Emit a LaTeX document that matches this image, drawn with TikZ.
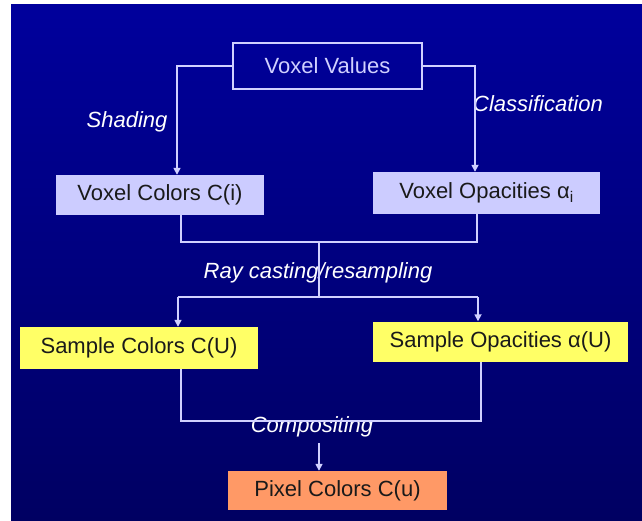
\documentclass[tikz,border=0pt]{standalone}
\usepackage{fontspec}
\setmainfont{Liberation Sans}
\usetikzlibrary{arrows.meta}

\definecolor{bgtop}{HTML}{00009C}
\definecolor{bgbot}{HTML}{000062}
\definecolor{wire}{HTML}{D0D0FF}
\definecolor{lav}{HTML}{CCCCFF}
\definecolor{yel}{HTML}{FFFF66}
\definecolor{org}{HTML}{FF9966}
\definecolor{ink}{HTML}{1A1A1A}

\tikzset{
  box/.style={rectangle, inner sep=0pt, font=\fontsize{22}{24}\selectfont, text=ink},
  topbox/.style={box, draw=wire, line width=1.6pt, text=wire},
  lbl/.style={font=\fontsize{22}{24}\selectfont\itshape, text=white},
  wireline/.style={draw=wire, line width=1.6pt},
  arr/.style={wireline, -{Triangle[length=7pt,width=7pt]}}
}

\begin{document}
\begin{tikzpicture}[x=1pt,y=-1pt]
  \useasboundingbox (0,0) rectangle (642,521);
  \fill[white] (0,0) rectangle (642,521);
  \shade[top color=bgtop, bottom color=bgbot] (11,5) rectangle (642,521);

  % boxes
  \node[topbox, minimum width=189pt, minimum height=46pt] (vv) at (327.5,66) {Voxel Values};
  \node[box, fill=lav, minimum width=208pt, minimum height=40pt] (vc) at (160,195) {Voxel Colors C(i)};
  \node[box, fill=lav, minimum width=227pt, minimum height=42pt] (vo) at (486.5,193) {Voxel Opacities α\textsubscript{i}};
  \node[box, fill=yel, minimum width=238pt, minimum height=42pt] (sc) at (139,348) {Sample Colors C(U)};
  \node[box, fill=yel, minimum width=255pt, minimum height=40pt] (so) at (500.5,341.5) {Sample Opacities α(U)};
  \node[box, fill=org, minimum width=219pt, minimum height=39pt] (pc) at (337.5,490.5) {Pixel Colors C(u)};

  % labels
  \node[lbl] (lshade) at (127,122) {Shading};
  \node[lbl] (lclass) at (538,104) {Classification};
  \node[lbl] (lray) at (318,273) {Ray casting/resampling};
  \node[lbl] (lcomp) at (312,427) {Compositing};

  % top split
  \coordinate (vcin) at (177,0);
  \coordinate (voin) at (475,0);
  \draw[arr] (vv.west) -| (vc.north -| vcin);
  \draw[arr] (vv.east) -| (vo.north -| voin);

  % first merge and resampling split
  \coordinate (m1l) at (181,242);
  \coordinate (m1r) at (477,242);
  \coordinate (m1c) at (319,242);
  \coordinate (s1c) at (319,297);
  \coordinate (s1l) at (178,297);
  \coordinate (s1r) at (478,297);
  \draw[wireline] (vc.south -| m1l) -- (m1l) -- (m1r) -- (vo.south -| m1r);
  \draw[wireline] (m1c) -- (s1c);
  \draw[wireline] (s1l) -- (s1r);
  \draw[arr] (s1l) -- (sc.north -| s1l);
  \draw[arr] (s1r) -- (so.north -| s1r);

  % compositing merge
  \coordinate (m2l) at (181,421);
  \coordinate (m2r) at (481,421);
  \coordinate (m2c) at (319,443);
  \draw[wireline] (sc.south -| m2l) -- (m2l) -- (m2r) -- (so.south -| m2r);
  \draw[arr] (m2c) -- (pc.north -| m2c);
\end{tikzpicture}
\end{document}
